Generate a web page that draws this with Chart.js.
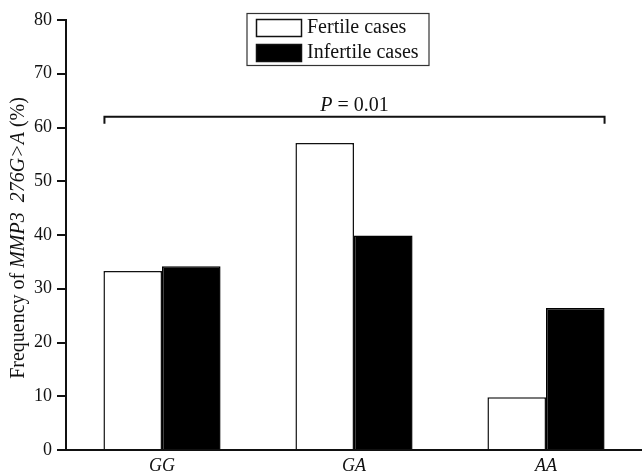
<!DOCTYPE html>
<html>
<head>
<meta charset="utf-8">
<script src="https://cdn.jsdelivr.net/npm/chart.js@4.4.1/dist/chart.umd.min.js"></script>
<style>
  html, body { margin: 0; padding: 0; background: #fff; }
  #wrap { width: 642px; height: 474px; }
</style>
</head>
<body>
<div id="wrap"><canvas id="freqChart"></canvas></div>
<script>
  // Genotype frequencies (%)
  const genotypes = ['GG', 'GA', 'AA'];
  const fertile = [33.3, 57.1, 9.8];
  const infertile = [34.2, 39.9, 26.4];
  const yTicks = [0, 10, 20, 30, 40, 50, 60, 70, 80];

  // P value bracket
  const bracketLevel = 62;
  const pValue = '0.01';

  const ink = '#111';
  const serif = '"Liberation Serif", "Times New Roman", serif';

  // y-axis title with italic gene name and variant
  const yTitleParts = [
    { text: 'Frequency of ', italic: false },
    { text: 'MMP3', italic: true },
    { text: '  ', italic: false },
    { text: '276G>A', italic: true },
    { text: ' (%)', italic: false }
  ];

  const decorations = {
    id: 'decorations',
    afterDraw(chart) {
      const c = chart.ctx;
      const area = chart.chartArea;
      const y = chart.scales.y;

      // y title
      c.save();
      c.fillStyle = ink;
      c.textBaseline = 'middle';
      let total = 0;
      yTitleParts.forEach(p => {
        c.font = (p.italic ? 'italic ' : '') + '20px ' + serif;
        total += c.measureText(p.text).width;
      });
      c.translate(19, (area.top + area.bottom) / 2 + 3);
      c.rotate(-Math.PI / 2);
      let x = -total / 2;
      yTitleParts.forEach(p => {
        c.font = (p.italic ? 'italic ' : '') + '20px ' + serif;
        c.fillText(p.text, x, 0);
        x += c.measureText(p.text).width;
      });
      c.restore();

      // significance bracket from first bar to last bar
      const first = chart.getDatasetMeta(0).data[0];
      const last = chart.getDatasetMeta(1).data[genotypes.length - 1];
      const x1 = first.x - first.width / 2 + 1;
      const x2 = last.x + last.width / 2;
      const by = y.getPixelForValue(bracketLevel);
      c.save();
      c.strokeStyle = ink;
      c.lineWidth = 2;
      c.beginPath();
      c.moveTo(x1, by + 7);
      c.lineTo(x1, by);
      c.lineTo(x2, by);
      c.lineTo(x2, by + 7);
      c.stroke();

      c.fillStyle = ink;
      c.textBaseline = 'alphabetic';
      c.font = 'italic 20px ' + serif;
      const pw = c.measureText('P').width;
      c.font = '20px ' + serif;
      const rest = ' = ' + pValue;
      const rw = c.measureText(rest).width;
      let tx = (x1 + x2) / 2 - (pw + rw) / 2;
      c.font = 'italic 20px ' + serif;
      c.fillText('P', tx, by - 6);
      c.font = '20px ' + serif;
      c.fillText(rest, tx + pw, by - 6);
      c.restore();

      // boxed legend
      c.save();
      c.strokeStyle = '#333';
      c.lineWidth = 1.2;
      c.strokeRect(247, 13.5, 182, 52);
      chart.data.datasets.forEach((ds, i) => {
        const top = 19 + i * 25;
        c.fillStyle = ds.backgroundColor;
        c.fillRect(256, top, 46, 18);
        c.strokeStyle = ink;
        c.lineWidth = 1.5;
        c.strokeRect(256.5, top + 0.5, 45, 17);
        c.fillStyle = ink;
        c.font = '20px ' + serif;
        c.textBaseline = 'middle';
        c.fillText(ds.label, 307, top + 9);
      });
      c.restore();
    }
  };

  new Chart(document.getElementById('freqChart'), {
    type: 'bar',
    data: {
      labels: genotypes,
      datasets: [
        {
          label: 'Fertile cases',
          data: fertile,
          backgroundColor: '#ffffff',
          borderColor: ink,
          borderWidth: 1.5
        },
        {
          label: 'Infertile cases',
          data: infertile,
          backgroundColor: '#000000',
          borderColor: '#000000',
          borderWidth: 1.5
        }
      ]
    },
    options: {
      responsive: true,
      maintainAspectRatio: false,
      animation: false,
      layout: { padding: { top: 20, right: 0, left: 0, bottom: 0 } },
      datasets: { bar: { barPercentage: 1, categoryPercentage: 0.61 } },
      plugins: {
        legend: { display: false },
        tooltip: { enabled: false }
      },
      scales: {
        x: {
          grid: { display: false },
          border: { display: true, color: ink, width: 2 },
          ticks: {
            color: ink,
            padding: -3,
            font: { family: serif, size: 18, style: 'italic' }
          },
          afterFit(scale) { scale.height = 24; }
        },
        y: {
          min: 0,
          max: 80,
          afterBuildTicks(scale) {
            scale.ticks = yTicks.map(v => ({ value: v }));
          },
          grid: {
            drawOnChartArea: false,
            drawTicks: true,
            tickLength: 9,
            color: ink,
            lineWidth: 2
          },
          border: { display: true, color: ink, width: 2 },
          ticks: {
            color: ink,
            padding: 5,
            font: { family: serif, size: 18 }
          },
          afterFit(scale) { scale.width = 66; }
        }
      }
    },
    plugins: [decorations]
  });
</script>
</body>
</html>
